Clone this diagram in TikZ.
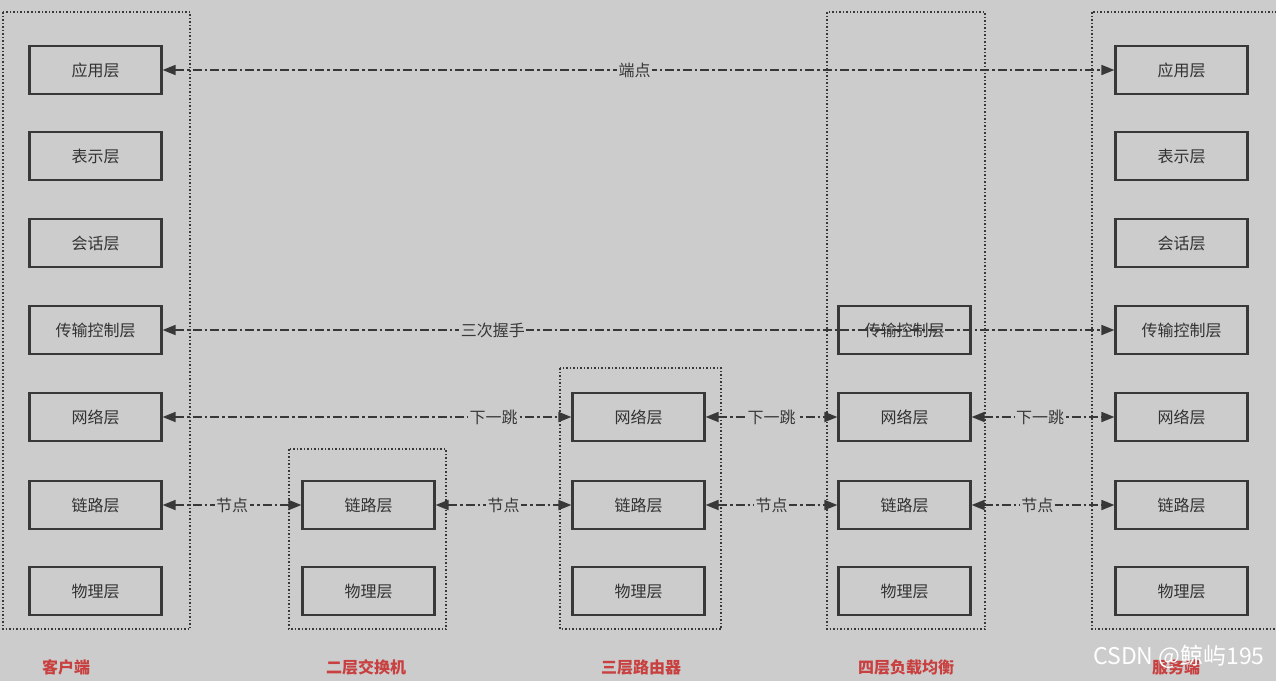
\documentclass[tikz,border=0pt]{standalone}
\usepackage{fontspec}
\setmainfont{Noto Sans CJK SC}
\usetikzlibrary{arrows.meta}
\definecolor{bggray}{HTML}{CCCCCC}
\definecolor{inkgray}{HTML}{383838}
\definecolor{tagred}{HTML}{C94040}

\begin{document}
\begin{tikzpicture}[x=1pt,y=-1pt,font=\fontsize{16}{19}\selectfont,
    layer/.style={draw=inkgray,line width=2.2pt,text=inkgray!90!black,
                  minimum width=132pt,minimum height=48pt,inner sep=0pt},
    grp/.style={draw=inkgray,dotted,line width=1.5pt},
    tag/.style={text=tagred,font=\fontsize{16}{19}\selectfont\bfseries},
    lnk/.style={{Triangle[length=13pt,width=10pt]}-{Triangle[length=13pt,width=10pt]},
                draw=inkgray,line width=1.7pt,
                dash pattern=on 9pt off 3pt on 2.5pt off 3pt},
    lbl/.style={fill=bggray,text=inkgray,inner sep=1.5pt}]

  \fill[bggray] (0,0) rectangle (1276,681);
  \useasboundingbox (0,0) rectangle (1276,681);
  \clip (0,0) rectangle (1276,681);

  % groups
  \draw[grp] (3,12) rectangle (190,629);
  \draw[grp] (289,449) rectangle (446,629);
  \draw[grp] (560,368) rectangle (721,629);
  \draw[grp] (827,12) rectangle (985,629);
  \draw[grp] (1092,12) rectangle (1290,629);

  % client
  \node[layer] (capp) at (95.5,70) {应用层};
  \node[layer] (cpre) at (95.5,156) {表示层};
  \node[layer] (cses) at (95.5,243) {会话层};
  \node[layer] (ctra) at (95.5,330) {传输控制层};
  \node[layer] (cnet) at (95.5,417) {网络层};
  \node[layer] (clnk) at (95.5,505) {链路层};
  \node[layer] (cphy) at (95.5,591) {物理层};

  % switch
  \node[layer] (swlnk) at (368.5,505) {链路层};
  \node[layer] (swphy) at (368.5,591) {物理层};

  % router
  \node[layer] (rtnet) at (638.5,417) {网络层};
  \node[layer] (rtlnk) at (638.5,505) {链路层};
  \node[layer] (rtphy) at (638.5,591) {物理层};

  % load balancer
  \node[layer] (lbtra) at (904.5,330) {传输控制层};
  \node[layer] (lbnet) at (904.5,417) {网络层};
  \node[layer] (lblnk) at (904.5,505) {链路层};
  \node[layer] (lbphy) at (904.5,591) {物理层};

  % server
  \node[layer] (sapp) at (1181.5,70) {应用层};
  \node[layer] (spre) at (1181.5,156) {表示层};
  \node[layer] (sses) at (1181.5,243) {会话层};
  \node[layer] (stra) at (1181.5,330) {传输控制层};
  \node[layer] (snet) at (1181.5,417) {网络层};
  \node[layer] (slnk) at (1181.5,505) {链路层};
  \node[layer] (sphy) at (1181.5,591) {物理层};

  % links
  \draw[lnk] (capp) -- node[lbl,pos=0.496] {端点} (sapp);
  \draw[lnk] (ctra) -- node[lbl,pos=0.347] {三次握手} (stra);
  \draw[lnk] (cnet) -- node[lbl,pos=0.81] {下一跳} (rtnet);
  \draw[lnk] (rtnet) -- node[lbl] {下一跳} (lbnet);
  \draw[lnk] (lbnet) -- node[lbl,pos=0.48] {下一跳} (snet);
  \draw[lnk] (clnk) -- node[lbl] {节点} (swlnk);
  \draw[lnk] (swlnk) -- node[lbl] {节点} (rtlnk);
  \draw[lnk] (rtlnk) -- node[lbl] {节点} (lblnk);
  \draw[lnk] (lblnk) -- node[lbl,pos=0.46] {节点} (slnk);

  % captions
  \node[tag] (tcli) at (66,667) {客户端};
  \node[tag] (tsw) at (366,667) {二层交换机};
  \node[tag] (trt) at (641,667) {三层路由器};
  \node[tag] (tlb) at (906,667) {四层负载均衡};
  \node[tag] (tsrv) at (1176,667) {服务端};

  \node[text=white,font=\fontsize{23}{25}\selectfont] (mark) at (1179,657) {CSDN @鲸屿195};
\end{tikzpicture}
\end{document}
